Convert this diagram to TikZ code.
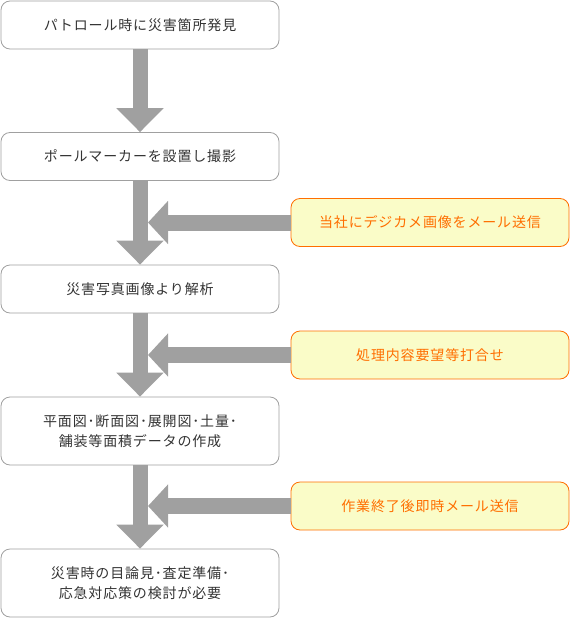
\documentclass[tikz,border=0pt]{standalone}
\usepackage{fontspec}
\setmainfont{Noto Sans CJK JP}[LetterSpace=6]
\usetikzlibrary{arrows.meta}
\definecolor{boxgray}{HTML}{A0A0A0}
\definecolor{arrowgray}{HTML}{A0A0A0}
\definecolor{textgray}{HTML}{333333}
\definecolor{noteorange}{HTML}{FF6E00}
\definecolor{noteyellow}{HTML}{FAFCC8}
\tikzset{
    flowbox/.style={draw=boxgray, line width=0.8pt, rounded corners=9pt, minimum width=278pt, minimum height=48pt,
        align=center, text=textgray, font=\fontsize{14}{20}\selectfont},
    tallbox/.style={flowbox, minimum height=68pt},
    notebox/.style={flowbox, draw=noteorange, fill=noteyellow, text=noteorange},
    downarrow/.style={draw=arrowgray, line width=15pt, -{Triangle[width=46pt,length=24pt]}},
    sidearrow/.style={draw=arrowgray, line width=16pt, -{Triangle[width=42pt,length=20pt]}}
}
\begin{document}
\begin{tikzpicture}[x=1pt,y=-1pt]
    \useasboundingbox (0,0) rectangle (570,618);
    % main flow
    \node[flowbox] (patrol) at (140,25) {パトロール時に災害箇所発見};
    \node[flowbox] (marker) at (140,156.5) {ポールマーカーを設置し撮影};
    \node[flowbox] (analyse) at (140,289) {災害写真画像より解析};
    \node[tallbox] (drawing) at (140,431) {平面図･断面図･展開図･土量･\\舗装等面積データの作成};
    \node[tallbox] (prepare) at (140,583) {災害時の目論見･査定準備･\\応急対応策の検討が必要};
    % side notes
    \node[notebox] (mail) at (430,222.5) {当社にデジカメ画像をメール送信};
    \node[notebox] (meeting) at (430,355) {処理内容要望等打合せ};
    \node[notebox] (report) at (430,506) {作業終了後即時メール送信};
    \coordinate (shaft) at (148,0);
    % arrows
    \draw[downarrow] (patrol.south) -- (marker.north);
    \draw[downarrow] (marker.south) -- (analyse.north);
    \draw[downarrow] (analyse.south) -- (drawing.north);
    \draw[downarrow] (drawing.south) -- (prepare.north);
    \draw[sidearrow] (mail.west) -- (mail.west -| shaft);
    \draw[sidearrow] (meeting.west) -- (meeting.west -| shaft);
    \draw[sidearrow] (report.west) -- (report.west -| shaft);
\end{tikzpicture}
\end{document}
